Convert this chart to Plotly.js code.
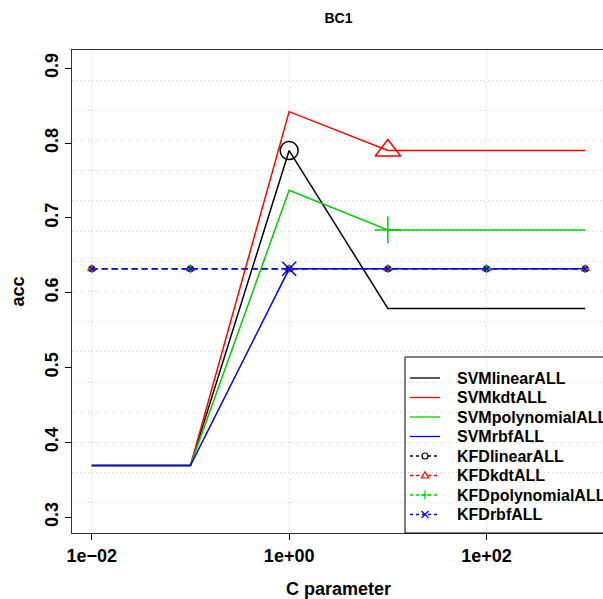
<!DOCTYPE html>
<html>
<head>
<meta charset="utf-8">
<script src="https://cdn.plot.ly/plotly-3.0.1.min.js"></script>
<style>html,body{margin:0;padding:0;background:#fff;overflow:hidden;}#plot{width:640px;height:599px;}</style>
</head>
<body>
<div id="plot"></div>
<script>
// Data
const cParam = [0.01, 0.1, 1, 10, 100, 1000];
const svmLinear = [0.369, 0.369, 0.790, 0.579, 0.579, 0.579];
const svmKdt = [0.369, 0.369, 0.842, 0.790, 0.790, 0.790];
const svmPoly = [0.369, 0.369, 0.737, 0.684, 0.684, 0.684];
const svmRbf = [0.369, 0.369, 0.632, 0.632, 0.632, 0.632];
const kfdLinear = [0.632, 0.632, 0.632, 0.632, 0.632, 0.632];
const kfdKdt = [0.632, 0.632, 0.632, 0.632, 0.632, 0.632];
const kfdPoly = [0.632, 0.632, 0.632, 0.632, 0.632, 0.632];
const kfdRbf = [0.632, 0.632, 0.632, 0.632, 0.632, 0.632];
// highlighted best points
const bestC = [1, 10, 10, 1];
const bestAcc = [0.790, 0.790, 0.684, 0.632];
const xTickVals = [0.01, 1, 100];
const xTickText = ['1e\u221202', '1e+00', '1e+02'];
const yTickVals = [0.3, 0.4, 0.5, 0.6, 0.7, 0.8, 0.9];
const yTickText = ['0.3', '0.4', '0.5', '0.6', '0.7', '0.8', '0.9'];
const svmNames = ['SVMlinearALL', 'SVMkdtALL', 'SVMpolynomialALL', 'SVMrbfALL'];
const kfdNames = ['KFDlinearALL', 'KFDkdtALL', 'KFDpolynomialALL', 'KFDrbfALL'];

const colors = ['#000000', '#FF0000', '#00CD00', '#0000FF'];
const svmData = [svmLinear, svmKdt, svmPoly, svmRbf];
const kfdData = [kfdLinear, kfdKdt, kfdPoly, kfdRbf];
const symbols = ['circle-open', 'triangle-up-open', 'cross-thin-open', 'x-thin-open'];
const smallSizes = [6, 7, 6, 5];
const bigSizes = [18, 22, 19, 14];

const traces = [];
for (let i = 0; i < 4; i++) {
  traces.push({
    x: cParam, y: svmData[i], type: 'scatter', mode: 'lines', name: svmNames[i], showlegend: false,
    line: {color: colors[i], width: 1.5}
  });
}
for (let i = 0; i < 4; i++) {
  traces.push({
    x: cParam, y: kfdData[i], type: 'scatter', mode: 'lines+markers', name: kfdNames[i], showlegend: false,
    line: {color: colors[i], width: 1.5, dash: '6px,4px'},
    marker: {symbol: symbols[i], size: smallSizes[i], color: colors[i], line: {color: colors[i], width: 1.2}}
  });
}
for (let i = 0; i < 4; i++) {
  traces.push({
    x: [bestC[i]], y: [bestAcc[i]], type: 'scatter', mode: 'markers', showlegend: false,
    marker: {symbol: symbols[i], size: bigSizes[i], color: colors[i], line: {color: colors[i], width: 1.5}}
  });
}

// plot area in pixels: x 72..605, y 50..533
const L = 72, R = 605, T = 50, B = 533;
const px = v => (v - L) / (R - L);
const py = v => (B - v) / (B - T);

const shapes = [];
const annotations = [];
// legend box
shapes.push({type: 'rect', xref: 'paper', yref: 'paper', x0: px(405), x1: px(660), y0: py(533), y1: py(357),
  line: {color: '#000', width: 1}, fillcolor: 'rgba(0,0,0,0)', layer: 'above'});
const legNames = svmNames.concat(kfdNames);
const rowY0 = 378, rowStep = 19.5;
const legFont = {family: 'Liberation Sans, Arial, sans-serif', size: 16, color: '#000', weight: 'bold'};
for (let k = 0; k < 8; k++) {
  const ry = rowY0 + k * rowStep;
  const c = colors[k % 4];
  const dashed = k >= 4;
  shapes.push({type: 'line', xref: 'paper', yref: 'paper', x0: px(410), x1: px(440), y0: py(ry), y1: py(ry),
    line: {color: c, width: 1.3, dash: dashed ? '3px,3px' : 'solid'}});
  if (dashed) {
    const m = k - 4;
    let path;
    if (m === 0) {
      shapes.push({type: 'circle', xref: 'paper', yref: 'paper', x0: px(422), x1: px(428), y0: py(ry + 3), y1: py(ry - 3),
        line: {color: c, width: 1.2}, fillcolor: '#fff'});
    } else {
      if (m === 1) path = `M${px(421.5)},${py(ry + 2.5)} L${px(428.5)},${py(ry + 2.5)} L${px(425)},${py(ry - 3.8)} Z`;
      if (m === 2) path = `M${px(420.5)},${py(ry)} L${px(429.5)},${py(ry)} M${px(425)},${py(ry - 4.5)} L${px(425)},${py(ry + 4.5)}`;
      if (m === 3) path = `M${px(421.5)},${py(ry - 3.5)} L${px(428.5)},${py(ry + 3.5)} M${px(421.5)},${py(ry + 3.5)} L${px(428.5)},${py(ry - 3.5)}`;
      shapes.push({type: 'path', xref: 'paper', yref: 'paper', path: path,
        line: {color: c, width: 1.2}, fillcolor: m === 1 ? '#fff' : 'rgba(0,0,0,0)'});
    }
  }
  annotations.push({text: legNames[k], xref: 'paper', yref: 'paper', x: px(455), y: py(ry),
    xanchor: 'left', yanchor: 'middle', showarrow: false, font: legFont});
}

const tickFont = {family: 'Liberation Sans, Arial, sans-serif', size: 18, color: '#000', weight: 'bold'};
const layout = {
  width: 640, height: 599,
  margin: {l: L, r: 640 - R, t: T, b: 599 - B},
  paper_bgcolor: '#fff', plot_bgcolor: '#fff',
  showlegend: false,
  shapes: shapes,
  annotations: annotations,
  title: {text: 'BC1', x: 0.5, xref: 'paper', xanchor: 'center', y: 1 - 18/599, yref: 'container', yanchor: 'middle',
          font: {family: 'Liberation Sans, Arial, sans-serif', size: 14, color: '#000', weight: 'bold'}},
  xaxis: {
    type: 'log', range: [-2.2, 3.2], autorange: false,
    tickmode: 'array', tickvals: xTickVals, ticktext: xTickText,
    ticks: 'outside', ticklen: 6, tickcolor: '#000', tickwidth: 1,
    showline: true, linecolor: '#333', linewidth: 1, mirror: true,
    showgrid: true, gridcolor: '#D3D3D3', griddash: '1px,3px', gridwidth: 1,
    zeroline: false, tickfont: tickFont,
    title: {text: 'C parameter', standoff: 17, font: tickFont}
  },
  yaxis: {
    range: [0.2789, 0.9244], autorange: false,
    tickmode: 'array', tickvals: yTickVals, ticktext: yTickText, tickangle: -90,
    ticks: 'outside', ticklen: 6, tickcolor: '#000', tickwidth: 1,
    showline: true, linecolor: '#333', linewidth: 1, mirror: true,
    showgrid: false, zeroline: false, tickfont: tickFont,
    minor: {tick0: 0.2789, dtick: 0.04034, showgrid: true, gridcolor: '#D3D3D3', griddash: '1px,3px', gridwidth: 1, ticks: ''},
    title: {text: 'acc', standoff: 12, font: tickFont}
  }
};
Plotly.newPlot('plot', traces, layout, {displayModeBar: false, staticPlot: true});
</script>
</body>
</html>
